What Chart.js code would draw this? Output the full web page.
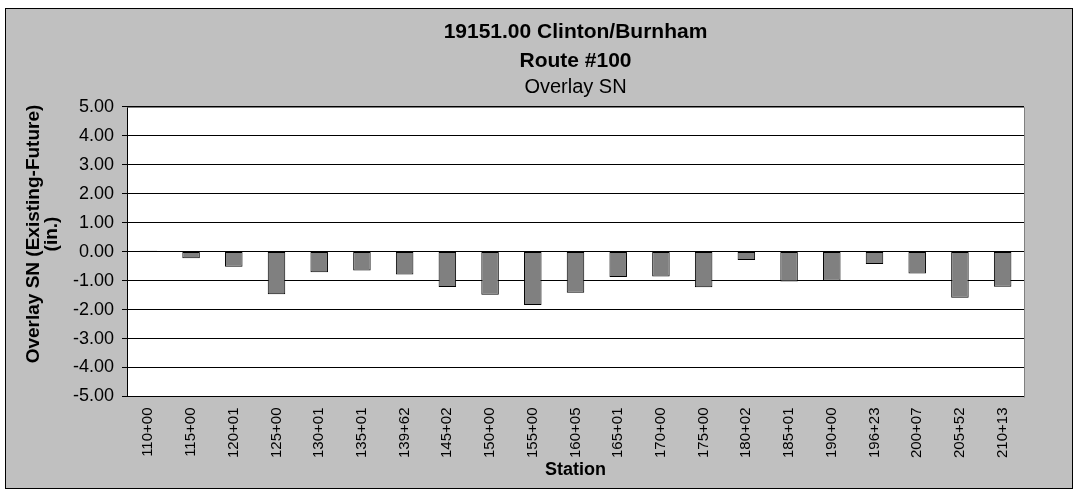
<!DOCTYPE html>
<html>
<head>
<meta charset="utf-8">
<title>19151.00 Clinton/Burnham - Overlay SN</title>
<script src="https://cdn.jsdelivr.net/npm/chart.js@4/dist/chart.umd.min.js"></script>
<style>
  html, body { margin: 0; padding: 0; background: #ffffff; }
  #chart { display: block; }
</style>
</head>
<body>
<canvas id="chart" width="1078" height="492"></canvas>
<script>
// Stations along Route #100
const stations = [
  '110+00', '115+00', '120+01', '125+00', '130+01', '135+01', '139+62',
  '145+02', '150+00', '155+00', '160+05', '165+01', '170+00', '175+00',
  '180+02', '185+01', '190+00', '196+23', '200+07', '205+52', '210+13'
];

// Overlay SN difference (existing - future), inches
const overlaySN = [
  0.03, -0.23, -0.52, -1.47, -0.71, -0.65, -0.79,
  -1.22, -1.49, -1.84, -1.42, -0.88, -0.86, -1.23,
  -0.29, -1.03, -1.01, -0.43, -0.76, -1.59, -1.21
];

// Value axis range and step
const yMin = -5;
const yMax = 5;
const yStep = 1;

const titleLines = ['19151.00 Clinton/Burnham', 'Route #100'];
const subtitleText = 'Overlay SN';
const yTitleLines = ['Overlay SN (Existing-Future)', '(in.)'];
const xTitleText = 'Station';

const FONT = '"Liberation Sans", Arial, Helvetica, sans-serif';

// Grey panel with a black frame, white plot area, grey plot border, rotated value-axis title
const panelPlugin = {
  id: 'panel',
  beforeDraw(chart) {
    const ctx = chart.ctx;
    const a = chart.chartArea;
    ctx.save();
    ctx.fillStyle = '#ffffff';
    ctx.fillRect(0, 0, chart.width, chart.height);
    ctx.fillStyle = '#c0c0c0';
    ctx.fillRect(5, 8, 1068, 481);
    ctx.strokeStyle = '#000000';
    ctx.lineWidth = 1;
    ctx.strokeRect(5.5, 8.5, 1067, 480);
    ctx.fillStyle = '#ffffff';
    ctx.fillRect(a.left, a.top, a.right - a.left, a.bottom - a.top);
    ctx.restore();
  },
  afterDraw(chart) {
    const ctx = chart.ctx;
    const a = chart.chartArea;
    const top = Math.round(a.top) + 0.5;
    const right = Math.round(a.right) + 0.5;
    ctx.save();
    ctx.strokeStyle = '#808080';
    ctx.lineWidth = 1;
    ctx.beginPath();
    ctx.moveTo(Math.round(a.left) + 0.5, top);
    ctx.lineTo(right, top);
    ctx.lineTo(right, Math.round(a.bottom) + 0.5);
    ctx.stroke();

    // value-axis title, two rotated lines
    ctx.fillStyle = '#000000';
    ctx.font = 'bold 19px ' + FONT;
    ctx.textAlign = 'center';
    ctx.textBaseline = 'middle';
    const cy = 234;
    const xs = [33.5, 52];
    yTitleLines.forEach((line, i) => {
      ctx.save();
      ctx.translate(xs[i], cy);
      ctx.rotate(-Math.PI / 2);
      ctx.fillText(line, 0, 0);
      ctx.restore();
    });
    ctx.restore();
  }
};

new Chart(document.getElementById('chart'), {
  type: 'bar',
  data: {
    labels: stations,
    datasets: [{
      label: 'Overlay SN',
      data: overlaySN,
      backgroundColor: '#808080',
      borderColor: '#000000',
      borderWidth: 1,
      borderSkipped: false,
      barPercentage: 0.41,
      categoryPercentage: 1.0
    }]
  },
  options: {
    responsive: false,
    animation: false,
    devicePixelRatio: 1,
    layout: { padding: { left: 8, right: 54, top: 8, bottom: 4 } },
    plugins: {
      legend: { display: false },
      tooltip: { enabled: false },
      title: {
        display: true,
        fullSize: false,
        text: titleLines,
        color: '#000000',
        font: { family: FONT, size: 21, weight: 'bold', lineHeight: 1.38 },
        padding: { top: 9.5, bottom: 0 }
      },
      subtitle: {
        display: true,
        fullSize: false,
        text: subtitleText,
        color: '#000000',
        font: { family: FONT, size: 20, weight: 'normal', lineHeight: 1.2 },
        padding: { top: 0, bottom: 7.2 }
      }
    },
    scales: {
      x: {
        grid: { display: false, drawTicks: false },
        border: { display: true, color: '#000000', width: 1 },
        ticks: {
          autoSkip: false,
          minRotation: 90,
          maxRotation: 90,
          padding: 11,
          color: '#000000',
          font: { family: FONT, size: 15 }
        },
        title: {
          display: true,
          text: xTitleText,
          color: '#000000',
          font: { family: FONT, size: 18, weight: 'bold', lineHeight: 1.2 },
          padding: { top: 0, bottom: 7 }
        },
        afterFit(scale) { scale.height = 91.5; }
      },
      y: {
        min: yMin,
        max: yMax,
        grid: {
          color: '#000000',
          lineWidth: 1,
          drawTicks: true,
          tickLength: 5
        },
        border: { display: true, color: '#000000', width: 1 },
        ticks: {
          stepSize: yStep,
          padding: 8,
          color: '#000000',
          font: { family: FONT, size: 18 },
          callback: (v) => Number(v).toFixed(2)
        },
        afterFit(scale) { scale.width = 119; }
      }
    }
  },
  plugins: [panelPlugin]
});
</script>
</body>
</html>
